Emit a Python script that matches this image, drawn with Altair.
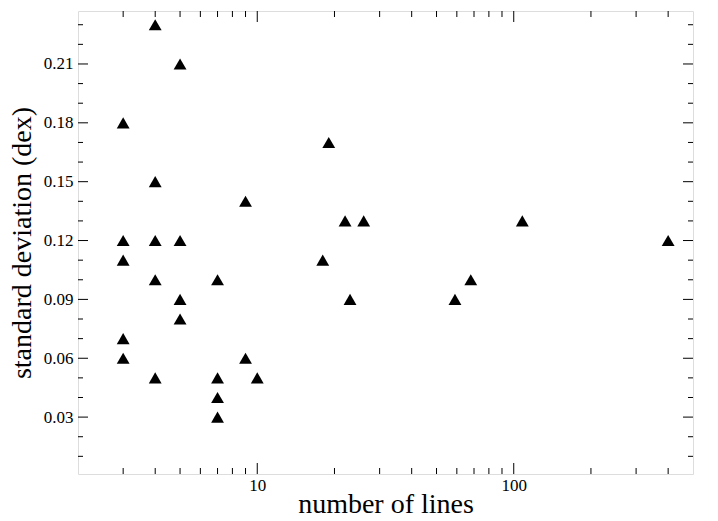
import altair as alt
import pandas as pd

n_lines = [3, 3, 3, 3, 3, 4, 4, 4, 4, 4, 5, 5, 5, 5, 7, 7, 7, 7, 9, 9, 10,
           18, 19, 22, 23, 26, 59, 68, 108, 400]
std_dev = [0.18, 0.12, 0.11, 0.07, 0.06, 0.23, 0.15, 0.12, 0.10, 0.05,
           0.21, 0.12, 0.09, 0.08, 0.10, 0.05, 0.04, 0.03, 0.14, 0.06, 0.05,
           0.11, 0.17, 0.13, 0.09, 0.13, 0.09, 0.10, 0.13, 0.12]

x_major = [10, 100]
x_minor = [3, 4, 5, 6, 7, 8, 9, 20, 30, 40, 50, 60, 70, 80, 90, 200, 300, 400]
y_major = [0.03, 0.06, 0.09, 0.12, 0.15, 0.18, 0.21]
y_minor = [0.01, 0.02, 0.04, 0.05, 0.07, 0.08, 0.10, 0.11, 0.13, 0.14,
           0.16, 0.17, 0.19, 0.20, 0.22, 0.23]

W, H = 615, 463
FONT = "Liberation Serif"
MAJ, MIN = 10, 5

xscale = alt.Scale(type="log", domain=[2, 500], nice=False)
yscale = alt.Scale(domain=[0.001, 0.237], nice=False, zero=False)

xaxis = alt.Axis(values=x_major, format="d", ticks=False, tickSize=0,
                 domain=False, grid=False, labelPadding=3,
                 labelFont=FONT, labelFontSize=17, labelColor="black",
                 titleFont=FONT, titleFontSize=28, titleFontWeight="normal",
                 titleColor="black", titlePadding=-3)
yaxis = alt.Axis(values=y_major, format=".2f", ticks=False, tickSize=0,
                 domain=False, grid=False, labelPadding=5,
                 labelFont=FONT, labelFontSize=17, labelColor="black",
                 titleFont=FONT, titleFontSize=28, titleFontWeight="normal",
                 titleColor="black", titlePadding=7)
XT = "number of lines"
YT = "standard deviation (dex)"

pts = pd.DataFrame({"n": n_lines, "s": std_dev})

points = alt.Chart(pts).mark_point(
    shape="triangle-up", filled=True, color="black", size=165, opacity=1
).encode(
    x=alt.X("n:Q", scale=xscale, title=XT, axis=xaxis),
    y=alt.Y("s:Q", scale=yscale, title=YT, axis=yaxis),
)


def yticks(vals, length):
    df = pd.DataFrame({"v": vals})
    left = alt.Chart(df).mark_rule(color="black", strokeWidth=1).encode(
        y=alt.Y("v:Q", scale=yscale, title=YT, axis=yaxis),
        x=alt.value(0), x2=alt.value(length))
    right = alt.Chart(df).mark_rule(color="black", strokeWidth=1).encode(
        y=alt.Y("v:Q", scale=yscale, title=YT, axis=yaxis),
        x=alt.value(W), x2=alt.value(W - length))
    return [left, right]


def xticks(vals, length):
    df = pd.DataFrame({"v": vals})
    bottom = alt.Chart(df).mark_rule(color="black", strokeWidth=1).encode(
        x=alt.X("v:Q", scale=xscale, title=XT, axis=xaxis),
        y=alt.value(H), y2=alt.value(H - length))
    top = alt.Chart(df).mark_rule(color="black", strokeWidth=1).encode(
        x=alt.X("v:Q", scale=xscale, title=XT, axis=xaxis),
        y=alt.value(0), y2=alt.value(length))
    return [bottom, top]


layers = (yticks(y_major, MAJ) + yticks(y_minor, MIN)
          + xticks(x_major, MAJ + 1) + xticks(x_minor, MIN + 1) + [points])

chart = alt.layer(*layers).properties(
    width=W, height=H,
    padding={"left": 78, "top": 11, "right": 25, "bottom": 47},
    autosize=alt.AutoSizeParams(type="none"),
    background="white",
).configure_view(
    stroke="black", strokeWidth=1.5
).configure_axis(
    labelFont=FONT, titleFont=FONT
).configure(font=FONT)

chart.save("out.html", embed_options={"renderer": "svg", "actions": False})
